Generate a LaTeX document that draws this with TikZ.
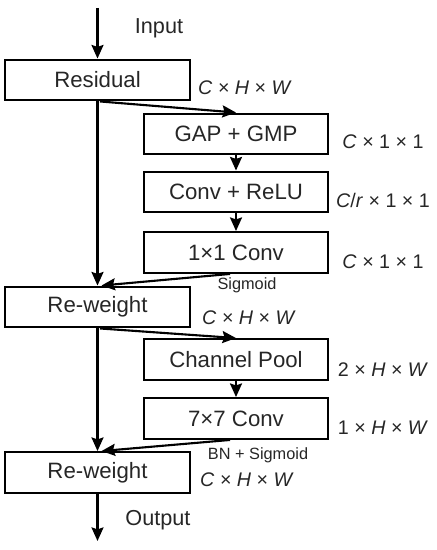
\documentclass[tikz,border=0pt]{standalone}
\usepackage{fontspec}
\setmainfont{Liberation Sans}
\usepackage{tikz}
\usetikzlibrary{positioning, arrows.meta}

\begin{document}
\begin{tikzpicture}[
  x=0.025cm, y=-0.025cm,
  every node/.style={rectangle, sharp corners, align=center, text=black!85},
  block/.style={draw=black, line width=1.5pt, font=\fontsize{15.8}{19}\selectfont,
    minimum width=4.6cm, minimum height=1.02cm, inner sep=0pt},
  dims/.style={font=\fontsize{14}{17}\selectfont, inner sep=0pt},
  note/.style={font=\fontsize{11.6}{14}\selectfont, inner sep=0pt},
  arrow/.style={-{Stealth[length=3.4mm, width=3mm, inset=0.5mm]}, line width=1.5pt, black}
]
\useasboundingbox (0,0) rectangle (436,550);

% Main path: Residual and Re-weight blocks
\node[block, minimum width=4.625cm] (residual) at (97.5,80) {Residual};
\node[block, minimum width=4.625cm] (reweightA) at (97.5,307) {Re-weight};
\node[block, minimum width=4.625cm] (reweightB) at (97.5,472.5) {Re-weight};

% Channel attention branch
\node[block] (gap) at (236,134) {GAP + GMP};
\node[block] (convrelu) at (236,192) {Conv + ReLU};
\node[block] (conva) at (236,252.5) {1×1 Conv};

% Spatial attention branch
\node[block] (chpool) at (236,359.5) {Channel Pool};
\node[block] (convb) at (236,418.5) {7×7 Conv};

% Input and output ends
\coordinate (input) at (97.5,8);
\coordinate (output) at (97.5,541);
\node[font=\fontsize{15.4}{18}\selectfont, inner sep=0pt] (inlabel) at (159,28) {Input};
\node[font=\fontsize{15.4}{18}\selectfont, inner sep=0pt] (outlabel) at (158,520) {Output};

% Tensor sizes
\node[dims] (dimres) at (245,88) {\textit{C} × \textit{H} × \textit{W}};
\node[dims] (dimgap) at (383,142) {\textit{C} × 1 × 1};
\node[dims] (dimrelu) at (383,200) {\textit{C}/\textit{r} × 1 × 1};
\node[dims] (dimconva) at (383,262) {\textit{C} × 1 × 1};
\node[dims] (dimrwa) at (249,318) {\textit{C} × \textit{H} × \textit{W}};
\node[dims] (dimpool) at (383,370) {2 × \textit{H} × \textit{W}};
\node[dims] (dimconvb) at (383,428) {1 × \textit{H} × \textit{W}};
\node[dims] (dimrwb) at (247,480) {\textit{C} × \textit{H} × \textit{W}};

% Activations
\node[note] (sigA) at (247,285) {Sigmoid};
\node[note] (sigB) at (258,455) {BN + Sigmoid};

% Arrows
\draw[arrow] (input) -- (residual);
\draw[arrow] ([xshift=0.06cm]residual.south) -- (gap.north);
\draw[arrow] (gap) -- (convrelu);
\draw[arrow] (convrelu) -- (conva);
\draw[arrow] (residual) -- (reweightA);
\draw[arrow] ([xshift=-0.15cm]conva.south) -- ([xshift=0.1cm]reweightA.north);
\draw[arrow] ([xshift=0.06cm]reweightA.south) -- (chpool.north);
\draw[arrow] (chpool) -- (convb);
\draw[arrow] (reweightA) -- (reweightB);
\draw[arrow] ([xshift=-0.15cm]convb.south) -- ([xshift=0.1cm]reweightB.north);
\draw[arrow] (reweightB) -- (output);

\end{tikzpicture}
\end{document}
